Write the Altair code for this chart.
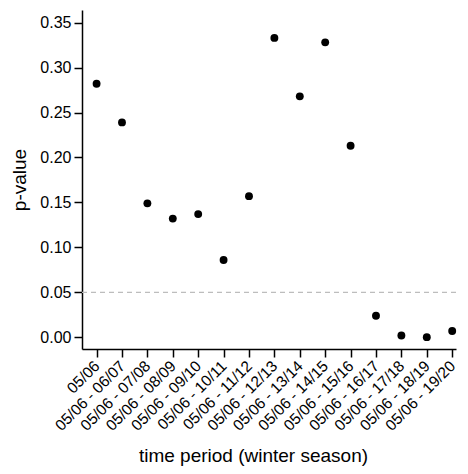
import altair as alt
import pandas as pd

periods = ["05/06", "05/06 - 06/07", "05/06 - 07/08", "05/06 - 08/09", "05/06 - 09/10",
           "05/06 - 10/11", "05/06 - 11/12", "05/06 - 12/13", "05/06 - 13/14", "05/06 - 14/15",
           "05/06 - 15/16", "05/06 - 16/17", "05/06 - 17/18", "05/06 - 18/19", "05/06 - 19/20"]
p_values = [0.282, 0.239, 0.149, 0.132, 0.137, 0.086, 0.157, 0.333, 0.268, 0.328,
            0.213, 0.024, 0.002, 0.0002, 0.007]
threshold = [0.05]
y_ticks = [0.0, 0.05, 0.10, 0.15, 0.20, 0.25, 0.30, 0.35]

df = pd.DataFrame({"period": periods, "p": p_values})
thr = pd.DataFrame({"t": threshold})

FONT = "Liberation Sans"
YDOM = [-0.013, 0.364]

x = alt.X("period:N", sort=periods, title="time period (winter season)",
          scale=alt.Scale(type="point", padding=0.362, align=0.793),
          axis=alt.Axis(labelAngle=-45, labelAlign="right", labelBaseline="middle",
                        labelFontSize=15.5, labelColor="black", labelPadding=6,
                        tickSize=8, tickColor="black", tickWidth=1.5,
                        domainColor="black", domainWidth=1.5,
                        titleFontSize=19, titleFontWeight="normal", titleColor="black",
                        titleX=171, titleY=112, titleBaseline="alphabetic",
                        labelFont=FONT, titleFont=FONT, grid=False, labelOverlap=False))
y = alt.Y("p:Q", title="p-value",
          scale=alt.Scale(domain=YDOM, nice=False, zero=False),
          axis=alt.Axis(values=y_ticks, format=".2f", labelFontSize=16, labelColor="black",
                        labelPadding=3, tickSize=8, tickColor="black", tickWidth=1.5,
                        domainColor="black", domainWidth=1.5,
                        titleFontSize=19, titleFontWeight="normal", titleColor="black",
                        titlePadding=10, labelFont=FONT, titleFont=FONT, grid=False))

points = alt.Chart(df).mark_circle(size=62, color="black", opacity=1).encode(x=x, y=y)

rule = alt.Chart(thr).mark_rule(color="#bdbdbd", strokeDash=[5, 4], strokeWidth=1.1).encode(
    y=alt.Y("t:Q", scale=alt.Scale(domain=YDOM, nice=False, zero=False))
)

chart = alt.layer(rule, points).properties(
    width=374, height=339,
    autosize=alt.AutoSizeParams(type="none"),
    padding={"left": 74, "top": 2, "right": 4, "bottom": 117}
).configure_view(stroke=None).configure_axis(grid=False)

chart.save("out.html", embed_options={"renderer": "svg", "actions": False})
